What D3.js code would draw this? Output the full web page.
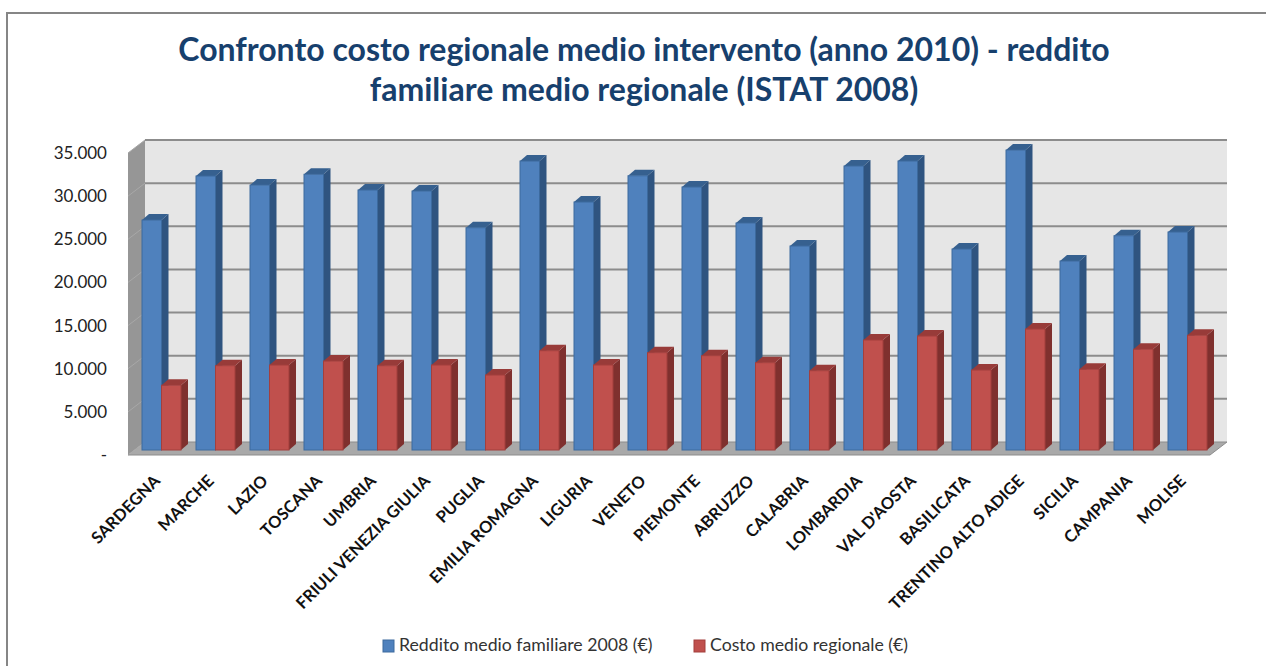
<!DOCTYPE html>
<html>
<head>
<meta charset="utf-8">
<script src="https://cdn.jsdelivr.net/npm/d3@7"></script>
<style>
    html, body { margin: 0; padding: 0; background: #fff; overflow: hidden; }
    text { font-family: Lato, "Noto Sans", sans-serif; }
</style>
</head>
<body>
<div id="chart-container"></div>
<script>
// Values
const regions = ["SARDEGNA", "MARCHE", "LAZIO", "TOSCANA", "UMBRIA", "FRIULI VENEZIA GIULIA", "PUGLIA",
    "EMILIA ROMAGNA", "LIGURIA", "VENETO", "PIEMONTE", "ABRUZZO", "CALABRIA", "LOMBARDIA", "VAL D'AOSTA",
    "BASILICATA", "TRENTINO ALTO ADIGE", "SICILIA", "CAMPANIA", "MOLISE"];
const reddito = [26650, 31750, 30700, 31950, 30130, 30010, 25760, 33490, 28740, 31780,
    30480, 26300, 23640, 32910, 33490, 23290, 34760, 21900, 24830, 25260];
const costo = [7500, 9770, 9850, 10310, 9770, 9850, 8690, 11510, 9850, 11280,
    10930, 10120, 9190, 12750, 13210, 9270, 14020, 9350, 11670, 13290];
const yTicks = [0, 5000, 10000, 15000, 20000, 25000, 30000, 35000];
const seriesNames = ["Reddito medio familiare 2008 (€)", "Costo medio regionale (€)"];
const titleLines = ["Confronto costo regionale medio intervento (anno 2010) - reddito",
    "familiare medio regionale (ISTAT 2008)"];

const width = 1266;
const height = 666;

// front plane of the fake 3d box, the back wall is shifted by depth
const plot = { left: 128, right: 1210, top: 153, bottom: 455 };
const depth = { x: 17, y: 13 };
const barDepth = { x: 7, y: 6 };

const colors = [
    { front: "#4f81bd", side: "#2f5480", top: "#36608f", line: "#3c6a9e" },
    { front: "#c0504d", side: "#7f302e", top: "#983b39", line: "#a33f3d" }
];

const svg = d3.select("#chart-container")
    .append("svg")
    .attr("width", width)
    .attr("height", height);

svg.append("rect")
    .attr("x", 7).attr("y", 13)
    .attr("width", 1300).attr("height", 700)
    .attr("fill", "#fff")
    .attr("stroke", "#868686")
    .attr("stroke-width", 2);

const title = svg.append("g").attr("text-anchor", "middle")
    .attr("fill", "#17406d")
    .style("font-size", "32px")
    .style("font-weight", 700);
title.selectAll("text")
    .data(titleLines)
    .join("text")
    .attr("x", 644)
    .attr("y", (d, i) => 61 + i * 40)
    .text(d => d);

const y = d3.scaleLinear().domain([0, 35000]).range([plot.bottom, plot.top]);
const x = d3.scaleBand().domain(regions).range([plot.left + 7, plot.right + 5]);
const xSeries = d3.scaleBand().domain([0, 1]).range([7, 46]);

const poly = pts => "M" + pts.map(p => p.join(",")).join("L") + "Z";

// walls and floor
const walls = svg.append("g");
walls.append("path")
    .attr("fill", "#e6e6e6")
    .attr("d", poly([
        [plot.left + depth.x, plot.top - depth.y], [plot.right + depth.x, plot.top - depth.y],
        [plot.right + depth.x, plot.bottom - depth.y], [plot.left + depth.x, plot.bottom - depth.y]
    ]));
walls.append("path")
    .attr("fill", "#969696")
    .attr("d", poly([
        [plot.left, plot.top], [plot.left + depth.x, plot.top - depth.y],
        [plot.left + depth.x, plot.bottom - depth.y], [plot.left, plot.bottom]
    ]));
walls.append("path")
    .attr("fill", "#a9a9a9")
    .attr("d", poly([
        [plot.left, plot.bottom], [plot.left + depth.x, plot.bottom - depth.y],
        [plot.right + depth.x, plot.bottom - depth.y], [plot.right, plot.bottom]
    ]));

// grid lines, lighter where they cross the side wall
walls.selectAll(".grid")
    .data(yTicks.filter(d => d > 0))
    .join("path")
    .attr("class", "grid")
    .attr("fill", "none")
    .attr("stroke", "#8c8c8c")
    .attr("stroke-width", 2)
    .attr("d", d => `M${plot.left + depth.x},${y(d) - depth.y}L${plot.right + depth.x},${y(d) - depth.y}`);
walls.selectAll(".side-grid")
    .data(yTicks)
    .join("path")
    .attr("class", "side-grid")
    .attr("fill", "none")
    .attr("stroke", "#a8a8a8")
    .attr("d", d => `M${plot.left},${y(d)}L${plot.left + depth.x},${y(d) - depth.y}`);

// floor edges
walls.append("path")
    .attr("fill", "none")
    .attr("stroke", "#8c8c8c")
    .attr("d", `M${plot.left + depth.x},${y(0) - depth.y}L${plot.right + depth.x},${y(0) - depth.y}`
        + `L${plot.right},${y(0)}L${plot.left},${y(0)}`);

// axes, tick labels only
const yAxis = d3.axisLeft(y)
    .tickValues(yTicks)
    .tickSize(0)
    .tickPadding(21)
    .tickFormat(d => d === 0 ? "-" : d3.format(",")(d).replace(",", "."));
svg.append("g")
    .attr("transform", `translate(${plot.left},0)`)
    .call(yAxis)
    .call(g => g.select(".domain").remove())
    .selectAll("text")
    .attr("fill", "#222")
    .style("font-family", 'Lato, sans-serif')
    .style("font-size", "17px");

const xAxis = d3.axisBottom(x).tickSize(0);
svg.append("g")
    .attr("transform", `translate(0,${plot.bottom})`)
    .call(xAxis)
    .call(g => g.select(".domain").remove())
    .selectAll("text")
    .attr("fill", "#111")
    .attr("text-anchor", "end")
    .attr("dy", 0)
    .attr("y", 0)
    .attr("transform", "translate(-1,27) rotate(-45)")
    .style("font-family", 'Lato, sans-serif')
    .style("font-size", "16.5px")
    .style("font-weight", 700);

// bars, one series after the other inside each band
const base = y(0) - 5;
[reddito, costo].forEach((values, s) => {
    const c = colors[s];
    const bars = svg.append("g")
        .selectAll("g")
        .data(values)
        .join("g");
    const x0 = i => x(regions[i]) + xSeries(s);
    const x1 = i => x0(i) + xSeries.bandwidth();
    const top = d => y(d) - 5;

    bars.append("path")
        .attr("fill", c.side)
        .attr("d", (d, i) => poly([
            [x1(i), top(d)], [x1(i) + barDepth.x, top(d) - barDepth.y],
            [x1(i) + barDepth.x, base - barDepth.y], [x1(i), base]
        ]));
    bars.append("path")
        .attr("fill", c.top)
        .attr("d", (d, i) => poly([
            [x0(i), top(d)], [x0(i) + barDepth.x, top(d) - barDepth.y],
            [x1(i) + barDepth.x, top(d) - barDepth.y], [x1(i), top(d)]
        ]));
    bars.append("rect")
        .attr("x", (d, i) => x0(i))
        .attr("y", d => top(d))
        .attr("width", xSeries.bandwidth())
        .attr("height", d => base - top(d))
        .attr("fill", c.front)
        .attr("stroke", c.line)
        .attr("stroke-width", 1);
});

// legend
const legend = svg.append("g");
const legendX = [399, 710];
seriesNames.forEach((name, i) => {
    legend.append("rect")
        .attr("x", legendX[i] - 16)
        .attr("y", 640)
        .attr("width", 11)
        .attr("height", 12)
        .attr("fill", colors[i].front)
        .attr("stroke", colors[i].line);
    legend.append("text")
        .attr("x", legendX[i])
        .attr("y", 651)
        .attr("fill", "#333")
        .style("font-size", "17.7px")
        .text(name);
});
</script>
</body>
</html>
